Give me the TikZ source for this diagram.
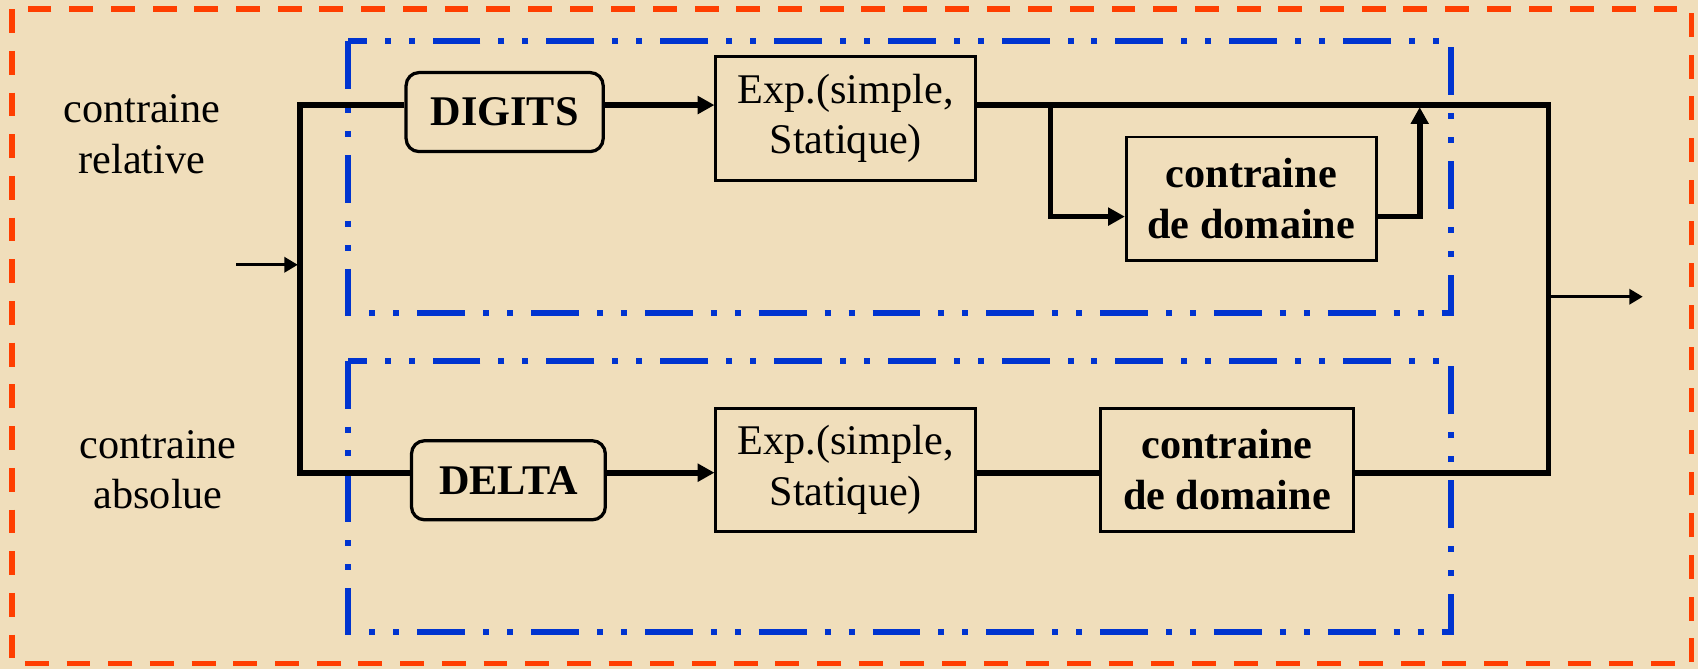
\documentclass[tikz,border=0pt]{standalone}
\usepackage{fontspec}
\setmainfont{Liberation Serif}
\usetikzlibrary{arrows.meta}
\definecolor{parch}{RGB}{240,222,187}
\definecolor{redb}{RGB}{255,62,0}
\definecolor{blueb}{RGB}{0,52,208}
\tikzset{
  redline/.style={draw=redb, line width=5pt, dash pattern=on 22pt off 16.5pt},
  blueline/.style={draw=blueb, line width=5.5pt, dash pattern=on 44.3pt off 16.6pt on 5.5pt off 16.6pt on 5.5pt off 16.6pt},
  txt/.style={font=\fontsize{39}{46.5}\selectfont, align=center, inner sep=0pt},
  box/.style={txt, draw=black, line width=2.5pt},
  rbox/.style={box, line width=3pt, rounded corners=12pt, font=\fontsize{39}{46.5}\selectfont\bfseries},
  bbox/.style={box, font=\fontsize{39}{47}\selectfont\bfseries},
  wire/.style={draw=black, line width=5.3pt},
  arr/.style={wire, -{Triangle[length=15.5pt,width=16pt]}},
  thinarr/.style={draw=black, line width=3pt, -{Triangle[length=12.5pt,width=14pt]}},
}
\begin{document}
\begin{tikzpicture}[x=1pt,y=-1pt]
\fill[parch] (0,0) rectangle (1568,618);
\useasboundingbox (0,0) rectangle (1568,618);
\draw[redline] (11,8.5) rectangle (1562,612.5);
\draw[blueline] (321,38) rectangle (1340,289);
\draw[blueline] (321,333) rectangle (1340,584);

\node[txt] (rel) at (131,124) {contraine\\relative};
\node[txt] (abs) at (146,434) {contraine\\absolue};

\node[rbox, minimum width=182pt, minimum height=73pt] (digits) at (466,103.5) {DIGITS};
\node[rbox, minimum width=179pt, minimum height=73pt] (delta) at (469.5,443.5) {DELTA};
\node[box, minimum width=240pt, minimum height=114pt] (exp1) at (781,109.5) {Exp.(simple,\\Statique)};
\node[box, minimum width=240pt, minimum height=114pt] (exp2) at (781,434) {Exp.(simple,\\Statique)};
\node[bbox, minimum width=231pt, minimum height=114pt] (cd1) at (1155.5,183.5) {contraine\\de domaine};
\node[bbox, minimum width=234pt, minimum height=114pt] (cd2) at (1133,434) {contraine\\de domaine};

\coordinate (in) at (218,244.5);
\coordinate (jl) at (275,244.5);
\coordinate (lt) at (277,97);
\coordinate (lb) at (277,436.5);
\coordinate (rt) at (1430,97);
\coordinate (rb) at (1430,436.5);
\coordinate (ro) at (1431,274);
\coordinate (out) at (1517,274);
\coordinate (br) at (970,97);
\coordinate (bl) at (970,200);
\coordinate (ur) at (1311,200);
\coordinate (ut) at (1311,99);

\draw[wire] (digits.west |- lt) -- (lt) -- (lb) -- (delta.west |- lb);
\draw[arr] (digits.east |- lt) -- (exp1.west |- lt);
\draw[wire] (exp1.east |- lt) -- (rt) -- (rb) -- (cd2.east |- rb);
\draw[arr] (delta.east |- lb) -- (exp2.west |- lb);
\draw[wire] (exp2.east |- lb) -- (cd2.west |- lb);
\draw[arr] (br) -- (bl) -- (cd1.west |- bl);
\draw[arr] (cd1.east |- bl) -- (ur) -- (ut);
\draw[thinarr] (in) -- (jl);
\draw[thinarr] (ro) -- (out);
\end{tikzpicture}
\end{document}
